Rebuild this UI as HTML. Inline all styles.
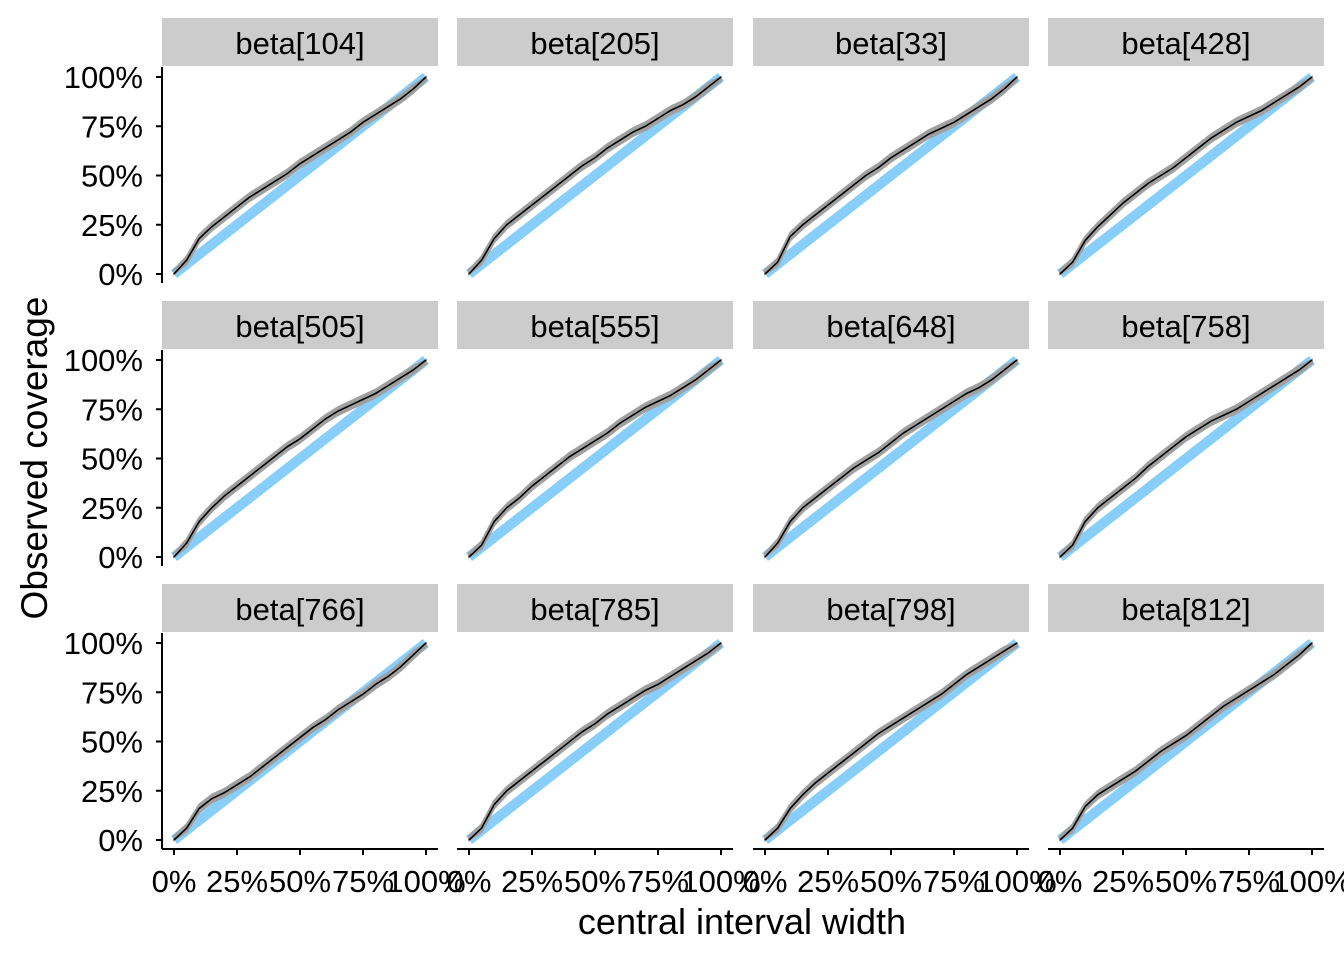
<!DOCTYPE html>
<html><head><meta charset="utf-8">
<style>
html,body{margin:0;padding:0;background:#fff;}
svg{display:block;font-family:"Liberation Sans",Arial,sans-serif;}
</style></head>
<body>
<svg id="chart" width="1344" height="960" viewBox="0 0 1344 960">
<text x="47" y="458" font-size="37" text-anchor="middle" transform="rotate(-90 47 458)">Observed coverage</text>
<text x="742" y="934" font-size="36" text-anchor="middle">central interval width</text>
</svg>
<script>
const panelNames = ["beta[104]","beta[205]","beta[33]","beta[428]","beta[505]","beta[555]","beta[648]","beta[758]","beta[766]","beta[785]","beta[798]","beta[812]"];
const xGrid = [0,0.05,0.1,0.15,0.2,0.25,0.3,0.35,0.4,0.45,0.5,0.55,0.6,0.65,0.7,0.75,0.8,0.85,0.9,0.95,1];
const obs104 = [0,0.07,0.18,0.24,0.29,0.34,0.39,0.43,0.47,0.51,0.56,0.6,0.64,0.68,0.72,0.77,0.81,0.85,0.89,0.94,1];
const obs205 = [0,0.07,0.18,0.25,0.3,0.35,0.4,0.45,0.5,0.55,0.59,0.64,0.68,0.72,0.75,0.79,0.83,0.86,0.9,0.95,1];
const obs33  = [0,0.06,0.19,0.25,0.3,0.35,0.4,0.45,0.5,0.54,0.59,0.63,0.67,0.71,0.74,0.77,0.81,0.85,0.89,0.94,1];
const obs428 = [0,0.06,0.17,0.24,0.3,0.36,0.41,0.46,0.5,0.54,0.59,0.64,0.69,0.73,0.77,0.8,0.83,0.87,0.91,0.95,1];
const obs505 = [0,0.07,0.18,0.25,0.31,0.36,0.41,0.46,0.51,0.56,0.6,0.65,0.7,0.74,0.77,0.8,0.83,0.87,0.91,0.95,1];
const obs555 = [0,0.06,0.18,0.25,0.3,0.36,0.41,0.46,0.51,0.55,0.59,0.63,0.68,0.72,0.76,0.79,0.82,0.86,0.9,0.95,1];
const obs648 = [0,0.07,0.18,0.25,0.3,0.35,0.4,0.45,0.49,0.53,0.58,0.63,0.67,0.71,0.75,0.79,0.83,0.86,0.9,0.95,1];
const obs758 = [0,0.06,0.18,0.25,0.3,0.35,0.4,0.46,0.51,0.56,0.61,0.65,0.69,0.72,0.75,0.79,0.83,0.87,0.91,0.95,1];
const obs766 = [0,0.06,0.16,0.21,0.24,0.28,0.32,0.37,0.42,0.47,0.52,0.57,0.61,0.66,0.7,0.74,0.79,0.83,0.88,0.94,1];
const obs785 = [0,0.06,0.18,0.25,0.3,0.35,0.4,0.45,0.5,0.55,0.59,0.64,0.68,0.72,0.76,0.79,0.83,0.87,0.91,0.95,1];
const obs798 = [0,0.06,0.16,0.23,0.29,0.34,0.39,0.44,0.49,0.54,0.58,0.62,0.66,0.7,0.74,0.79,0.84,0.88,0.92,0.96,1];
const obs812 = [0,0.06,0.17,0.23,0.27,0.31,0.35,0.4,0.45,0.49,0.53,0.58,0.63,0.68,0.72,0.76,0.8,0.84,0.89,0.94,1];
const allObs = [obs104,obs205,obs33,obs428,obs505,obs555,obs648,obs758,obs766,obs785,obs798,obs812];
const tickVals = [0,0.25,0.5,0.75,1];
const tickLabels = ["0%","25%","50%","75%","100%"];
const ribbonHalf = 0.02;

const NS = "http://www.w3.org/2000/svg";
const svg = document.getElementById("chart");
const colLeft = [162,457,753,1048];
const rowTop = [67,350,633];
const PW = 276, PH = 216;
function mk(tag, attrs, parent){const e=document.createElementNS(NS,tag);for(const k in attrs)e.setAttribute(k,attrs[k]);(parent||svg).appendChild(e);return e;}

panelNames.forEach((name,i)=>{
  const r=Math.floor(i/4), c=i%4;
  const L=colLeft[c], T=rowTop[r];
  const xs=v=>L+12+v*252;
  const ys=v=>T+207-v*197;
  const g=mk("g",{});
  
  
  const strip=mk("rect",{x:L,y:T-49,width:PW,height:48,fill:"#cccccc"},g);
  
  
  const st=mk("text",{x:L+PW/2,y:T-13,"font-size":31,"text-anchor":"middle",fill:"#000"},g);
  st.textContent=name;
  
  
  const diag=mk("line",{x1:xs(0),y1:ys(0),x2:xs(1),y2:ys(1),stroke:"#87cefa","stroke-width":10},g);
  
  
  const obs=allObs[i];
  let up="",dn="";
  xGrid.forEach((x,k)=>{up+=(k?"L":"M")+xs(x)+","+ys(Math.min(1,obs[k]+ribbonHalf));});
  for(let k=xGrid.length-1;k>=0;k--){dn+="L"+xs(xGrid[k])+","+ys(Math.max(0,obs[k]-ribbonHalf));}
  const rib=mk("path",{d:up+dn+"Z",fill:"#a0a0a0",stroke:"#a0a0a0","stroke-width":2},g);
  
  
  const line=mk("polyline",{points:xGrid.map((x,k)=>xs(x)+","+ys(obs[k])).join(" "),fill:"none",stroke:"#000","stroke-width":1.6},g);
  
  
  if(c===0){
    const ax=mk("line",{x1:L,y1:T,x2:L,y2:T+PH,stroke:"#000","stroke-width":2},g);
    
    
    tickVals.forEach((v,k)=>{
      mk("line",{x1:L-6,y1:ys(v),x2:L,y2:ys(v),stroke:"#000","stroke-width":2},g);
      const t=mk("text",{x:L-19,y:ys(v)+11,"font-size":31,"text-anchor":"end",fill:"#000"},g);
      t.textContent=tickLabels[k];
      
      
    });
  }
  if(r===2){
    const ax=mk("line",{x1:L,y1:T+PH,x2:L+PW,y2:T+PH,stroke:"#000","stroke-width":2},g);
    
    
    tickVals.forEach((v,k)=>{
      mk("line",{x1:xs(v),y1:T+PH,x2:xs(v),y2:T+PH+6,stroke:"#000","stroke-width":2},g);
      const t=mk("text",{x:xs(v),y:T+PH+43,"font-size":31,"text-anchor":"middle",fill:"#000"},g);
      t.textContent=tickLabels[k];
      
      
    });
  }
});
</script>
</body></html>
